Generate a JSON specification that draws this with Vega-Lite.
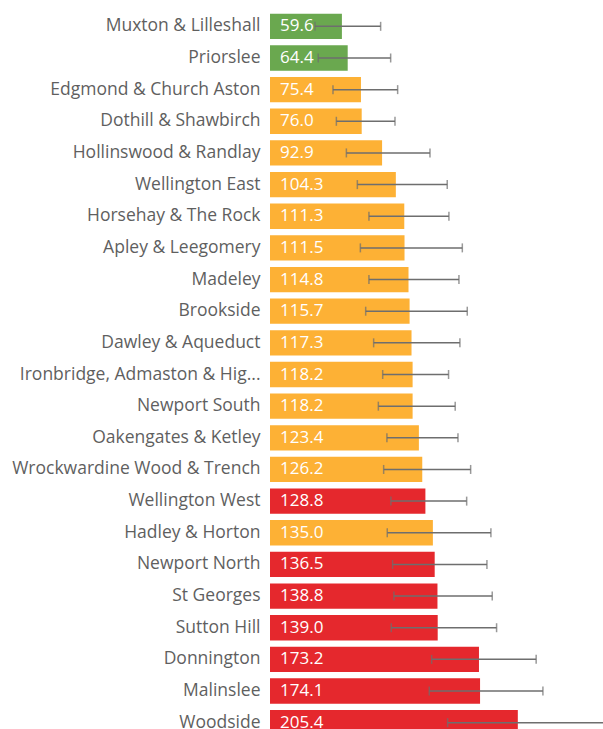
{
  "$schema": "https://vega.github.io/schema/vega-lite/v6.json",
  "autosize": "none",
  "width": 333,
  "height": 729,
  "padding": {"left": 270, "top": 0, "right": 0, "bottom": 0},
  "background": "white",
  "config": {"view": {"stroke": null}, "font": "Open Sans"},
  "data": {"values": [
    {"ward": "Muxton & Lilleshall", "value": 59.6, "lo": 37.3, "hi": 91.7, "rag": "green"},
    {"ward": "Priorslee", "value": 64.4, "lo": 40.0, "hi": 100.0, "rag": "green"},
    {"ward": "Edgmond & Church Aston", "value": 75.4, "lo": 52.2, "hi": 105.8, "rag": "amber"},
    {"ward": "Dothill & Shawbirch", "value": 76.0, "lo": 55.0, "hi": 103.6, "rag": "amber"},
    {"ward": "Hollinswood & Randlay", "value": 92.9, "lo": 63.3, "hi": 132.6, "rag": "amber"},
    {"ward": "Wellington East", "value": 104.3, "lo": 72.4, "hi": 146.9, "rag": "amber"},
    {"ward": "Horsehay & The Rock", "value": 111.3, "lo": 82.0, "hi": 148.3, "rag": "amber"},
    {"ward": "Apley & Leegomery", "value": 111.5, "lo": 74.9, "hi": 159.4, "rag": "amber"},
    {"ward": "Madeley", "value": 114.8, "lo": 82.0, "hi": 156.6, "rag": "amber"},
    {"ward": "Brookside", "value": 115.7, "lo": 79.3, "hi": 163.5, "rag": "amber"},
    {"ward": "Dawley & Aqueduct", "value": 117.3, "lo": 85.9, "hi": 157.4, "rag": "amber"},
    {"ward": "Ironbridge, Admaston & Hig...", "value": 118.2, "lo": 93.4, "hi": 148.0, "rag": "amber"},
    {"ward": "Newport South", "value": 118.2, "lo": 89.8, "hi": 153.5, "rag": "amber"},
    {"ward": "Oakengates & Ketley", "value": 123.4, "lo": 96.9, "hi": 155.8, "rag": "amber"},
    {"ward": "Wrockwardine Wood & Trench", "value": 126.2, "lo": 94.2, "hi": 166.3, "rag": "amber"},
    {"ward": "Wellington West", "value": 128.8, "lo": 100.2, "hi": 163.0, "rag": "red"},
    {"ward": "Hadley & Horton", "value": 135.0, "lo": 97.2, "hi": 183.1, "rag": "amber"},
    {"ward": "Newport North", "value": 136.5, "lo": 101.6, "hi": 179.8, "rag": "red"},
    {"ward": "St Georges", "value": 138.8, "lo": 102.7, "hi": 184.2, "rag": "red"},
    {"ward": "Sutton Hill", "value": 139.0, "lo": 100.5, "hi": 187.8, "rag": "red"},
    {"ward": "Donnington", "value": 173.2, "lo": 134.0, "hi": 220.6, "rag": "red"},
    {"ward": "Malinslee", "value": 174.1, "lo": 132.0, "hi": 226.2, "rag": "red"},
    {"ward": "Woodside", "value": 205.4, "lo": 147.2, "hi": 285.0, "rag": "red"}
  ]},
  "encoding": {
    "y": {
      "field": "ward", "type": "nominal", "sort": null, "title": null,
      "scale": {"range": [10.5, 738.5], "paddingInner": 0.2, "paddingOuter": 0.1},
      "axis": {"domain": false, "ticks": false, "labelPadding": 10, "labelFontSize": 17.5, "labelColor": "#5f5f5f", "labelLimit": 270, "labelFont": "Open Sans"}
    }
  },
  "layer": [
    {
      "mark": {"type": "bar", "clip": true},
      "encoding": {
        "x": {"field": "value", "type": "quantitative", "scale": {"domain": [0, 276], "nice": false}, "axis": null},
        "color": {"field": "rag", "type": "nominal", "legend": null,
          "scale": {"domain": ["green", "amber", "red"], "range": ["#6aa84f", "#fdb135", "#e5282d"]}}
      }
    },
    {
      "mark": {"type": "text", "align": "left", "baseline": "middle", "dx": 10, "fontSize": 17, "color": "white", "clip": true},
      "encoding": {
        "x": {"datum": 0, "type": "quantitative"},
        "text": {"field": "value", "type": "quantitative", "format": ".1f"}
      }
    },
    {
      "mark": {"type": "rule", "color": "#6e6e6e", "strokeWidth": 1.5, "clip": true},
      "encoding": {
        "x": {"field": "lo", "type": "quantitative"},
        "x2": {"field": "hi"}
      }
    },
    {
      "mark": {"type": "tick", "color": "#6e6e6e", "thickness": 1.5, "size": 9, "clip": true},
      "encoding": {"x": {"field": "lo", "type": "quantitative"}}
    },
    {
      "mark": {"type": "tick", "color": "#6e6e6e", "thickness": 1.5, "size": 9, "clip": true},
      "encoding": {"x": {"field": "hi", "type": "quantitative"}}
    }
  ]
}
